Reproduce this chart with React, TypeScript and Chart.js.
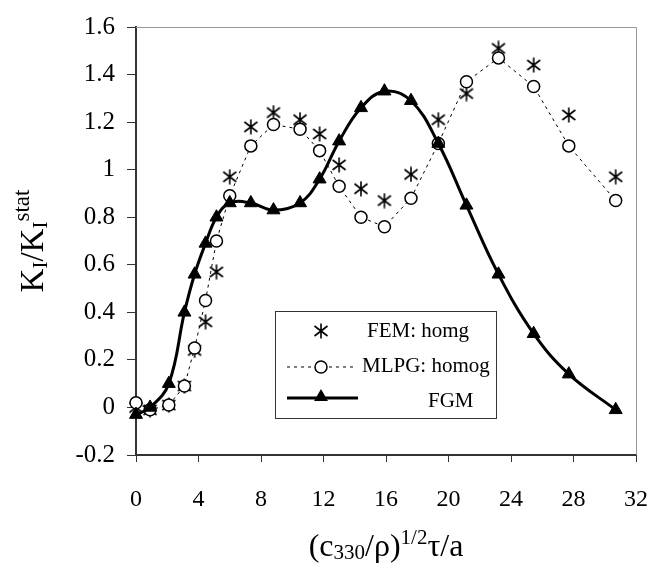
import React, { useEffect, useRef } from "react";
import { Chart, registerables } from "chart.js";

Chart.register(...registerables);

// ---- data ----
const xValues = [0, 0.9, 2.1, 3.1, 3.75, 4.45, 5.15, 6.0, 7.35, 8.8, 10.5, 11.75, 13.0, 14.4, 15.9, 17.6, 19.35, 21.15, 23.2, 25.45, 27.7, 30.7];
const femValues = [0.0, -0.01, 0.01, 0.09, 0.24, 0.36, 0.57, 0.97, 1.18, 1.24, 1.21, 1.15, 1.02, 0.92, 0.87, 0.98, 1.21, 1.32, 1.51, 1.44, 1.23, 0.97];
const mlpgValues = [0.02, -0.01, 0.01, 0.09, 0.25, 0.45, 0.7, 0.89, 1.1, 1.19, 1.17, 1.08, 0.93, 0.8, 0.76, 0.88, 1.11, 1.37, 1.47, 1.35, 1.1, 0.87];
const fgmValues = [-0.03, 0.0, 0.1, 0.4, 0.56, 0.69, 0.8, 0.86, 0.86, 0.83, 0.86, 0.96, 1.12, 1.26, 1.33, 1.29, 1.11, 0.85, 0.56, 0.31, 0.14, -0.01];

const seriesLabels = ["FEM: homg", "MLPG: homog", "FGM"];
const xTicksRange = { min: 0, max: 32, step: 4 };
const yTicksRange = { min: -0.2, max: 1.6, step: 0.2 };

const FONT = '"Liberation Serif", "Times New Roman", serif';

function makeAsterisk(): HTMLCanvasElement {
  const c = document.createElement("canvas");
  c.width = 16;
  c.height = 16;
  const g = c.getContext("2d")!;
  g.strokeStyle = "#000";
  g.lineWidth = 1.6;
  const cx = 8, cy = 8;
  g.beginPath();
  g.moveTo(cx, cy - 7.5); g.lineTo(cx, cy + 7.5);
  g.moveTo(cx - 6.5, cy - 5); g.lineTo(cx + 6.5, cy + 5);
  g.moveTo(cx - 6.5, cy + 5); g.lineTo(cx + 6.5, cy - 5);
  g.stroke();
  return c;
}

type Seg = { t: string; size: number; dy: number };

function drawRuns(ctx: CanvasRenderingContext2D, segs: Seg[], cx: number, baseY: number) {
  let total = 0;
  const widths = segs.map((s) => {
    ctx.font = `${s.size}px ${FONT}`;
    const w = ctx.measureText(s.t).width;
    total += w;
    return w;
  });
  let x = cx - total / 2;
  ctx.textAlign = "left";
  ctx.textBaseline = "alphabetic";
  segs.forEach((s, i) => {
    ctx.font = `${s.size}px ${FONT}`;
    ctx.fillText(s.t, x, baseY + s.dy);
    x += widths[i];
  });
}

function drawTriangle(ctx: CanvasRenderingContext2D, x: number, y: number, r: number) {
  ctx.beginPath();
  for (let k = 0; k < 3; k++) {
    const a = (k * 2 * Math.PI) / 3;
    const px = x + Math.sin(a) * r;
    const py = y - Math.cos(a) * r;
    if (k === 0) ctx.moveTo(px, py); else ctx.lineTo(px, py);
  }
  ctx.closePath();
  ctx.fill();
}

export default function App() {
  const ref = useRef<HTMLCanvasElement | null>(null);

  useEffect(() => {
    if (!ref.current) return;
    const asterisk = makeAsterisk();

    const decor = {
      id: "decor",
      afterDraw(chart: any) {
        const ctx: CanvasRenderingContext2D = chart.ctx;
        const a = chart.chartArea;
        ctx.save();
        // top & right frame
        ctx.strokeStyle = "#999";
        ctx.lineWidth = 1;
        ctx.beginPath();
        ctx.moveTo(a.left, a.top + 0.5);
        ctx.lineTo(a.right + 0.5, a.top + 0.5);
        ctx.lineTo(a.right + 0.5, a.bottom);
        ctx.stroke();

        ctx.fillStyle = "#000";
        // x title
        drawRuns(
          ctx,
          [
            { t: "(c", size: 32, dy: 0 },
            { t: "330", size: 21, dy: 3 },
            { t: "/\u03C1)", size: 32, dy: 0 },
            { t: "1/2", size: 21, dy: -12 },
            { t: "\u03C4/a", size: 32, dy: 0 },
          ],
          (a.left + a.right) / 2,
          556
        );
        // y title
        ctx.save();
        ctx.translate(43, (a.top + a.bottom) / 2);
        ctx.rotate(-Math.PI / 2);
        drawRuns(
          ctx,
          [
            { t: "K", size: 33, dy: 0 },
            { t: "I", size: 21, dy: 4 },
            { t: "/K", size: 33, dy: 0 },
            { t: "I", size: 21, dy: 4 },
            { t: "stat", size: 23, dy: -14 },
          ],
          0,
          0
        );
        ctx.restore();

        // legend
        ctx.strokeStyle = "#333";
        ctx.lineWidth = 1;
        ctx.strokeRect(275.5, 311.5, 221, 107);
        const symX = 321;
        // row 1
        ctx.drawImage(asterisk, symX - asterisk.width / 2, 331 - asterisk.height / 2);
        // row 2
        ctx.strokeStyle = "#000";
        ctx.setLineDash([3, 4]);
        ctx.beginPath();
        ctx.moveTo(287, 367);
        ctx.lineTo(356, 367);
        ctx.stroke();
        ctx.setLineDash([]);
        ctx.beginPath();
        ctx.arc(symX, 367, 6, 0, Math.PI * 2);
        ctx.fillStyle = "#fff";
        ctx.fill();
        ctx.lineWidth = 1.5;
        ctx.stroke();
        // row 3
        ctx.lineWidth = 3;
        ctx.beginPath();
        ctx.moveTo(287, 398);
        ctx.lineTo(358, 398);
        ctx.stroke();
        ctx.fillStyle = "#000";
        drawTriangle(ctx, symX, 397, 8);

        ctx.font = `21px ${FONT}`;
        ctx.textAlign = "left";
        ctx.textBaseline = "alphabetic";
        ctx.fillText(seriesLabels[0], 367, 337);
        ctx.fillText(seriesLabels[1], 362, 372);
        ctx.fillText(seriesLabels[2], 428, 407);
        ctx.restore();
      },
    };

    const toPts = (ys: number[]) => xValues.map((x, i) => ({ x, y: ys[i] }));

    const chart = new Chart(ref.current, {
      type: "scatter",
      data: {
        datasets: [
          {
            label: seriesLabels[2],
            data: toPts(fgmValues),
            showLine: true,
            tension: 0.4,
            borderColor: "#000",
            borderWidth: 3,
            pointStyle: "triangle",
            pointRadius: 7.5,
            pointBackgroundColor: "#000",
            pointBorderColor: "#000",
            pointBorderWidth: 1,
            clip: false,
            order: 0,
          },
          {
            label: seriesLabels[1],
            data: toPts(mlpgValues),
            showLine: true,
            tension: 0,
            borderColor: "#000",
            borderWidth: 1,
            borderDash: [3, 4],
            pointStyle: "circle",
            pointRadius: 6,
            pointBackgroundColor: "#fff",
            pointBorderColor: "#000",
            pointBorderWidth: 1.5,
            clip: false,
            order: 1,
          },
          {
            label: seriesLabels[0],
            data: toPts(femValues),
            showLine: false,
            pointStyle: asterisk as any,
            pointRadius: 7,
            clip: false,
            order: 2,
          },
        ],
      },
      options: {
        animation: false,
        responsive: false,
        devicePixelRatio: 1,
        layout: { padding: { left: 0, right: 14, top: 18, bottom: 0 } },
        plugins: {
          legend: { display: false },
          title: { display: false },
          tooltip: { enabled: false },
        },
        scales: {
          x: {
            type: "linear",
            min: xTicksRange.min,
            max: xTicksRange.max,
            afterFit: (s: any) => { s.height = 122; },
            ticks: {
              stepSize: xTicksRange.step,
              color: "#000",
              font: { family: FONT, size: 24 },
              padding: 23,
              maxRotation: 0,
              callback: (v: any) => String(v),
            },
            grid: { drawOnChartArea: false, drawTicks: true, tickLength: 7, color: "#333", lineWidth: 1 },
            border: { color: "#333", width: 2 },
          },
          y: {
            type: "linear",
            min: yTicksRange.min,
            max: yTicksRange.max,
            afterFit: (s: any) => { s.width = 136; },
            ticks: {
              stepSize: yTicksRange.step,
              color: "#000",
              font: { family: FONT, size: 25 },
              padding: 12,
              callback: (v: any) => String(Math.round(Number(v) * 10) / 10),
            },
            grid: { drawOnChartArea: false, drawTicks: true, tickLength: 9, color: "#333", lineWidth: 1 },
            border: { color: "#333", width: 2 },
          },
        },
      },
      plugins: [decor],
    });

    return () => chart.destroy();
  }, []);

  return (
    <div style={{ position: "fixed", left: 0, top: 0, width: 671, height: 577, background: "#fff" }}>
      <canvas ref={ref} width={671} height={577} style={{ display: "block" }} />
    </div>
  );
}
